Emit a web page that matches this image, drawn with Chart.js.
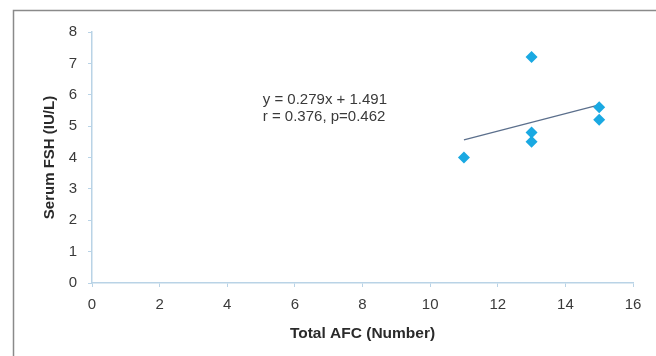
<!DOCTYPE html>
<html>
<head>
<meta charset="utf-8">
<script src="https://cdn.jsdelivr.net/npm/chart.js@4"></script>
<style>
  html, body { margin: 0; padding: 0; background: #fff; }
  #wrap { width: 656px; height: 356px; }
</style>
</head>
<body>
<div id="wrap"><canvas id="afcChart" width="656" height="356"></canvas></div>
<script>
// AFC vs FSH values
const afcValues = [11, 13, 13, 13, 15, 15];
const fshValues = [4.0, 7.2, 4.8, 4.5, 5.6, 5.2];

// regression shown on the plot
const slope = 0.279;
const intercept = 1.491;
const fitRange = [11, 15];
const annotationLines = ["y = 0.279x + 1.491", "r = 0.376, p=0.462"];

const xTicks = [0, 2, 4, 6, 8, 10, 12, 14, 16];
const yTicks = [0, 1, 2, 3, 4, 5, 6, 7, 8];

const axisColor = "#b9d3e6";
const textColor = "#3a3a3a";

// frame + equation text
const extrasPlugin = {
  id: "extras",
  afterDraw(chart) {
    const ctx = chart.ctx;
    const { x, y } = chart.scales;
    ctx.save();
    ctx.strokeStyle = "#8a8a8a";
    ctx.lineWidth = 1.5;
    ctx.beginPath();
    ctx.moveTo(13.5, 356);
    ctx.lineTo(13.5, 10.5);
    ctx.lineTo(656, 10.5);
    ctx.stroke();

    ctx.fillStyle = textColor;
    ctx.font = "15px 'Liberation Sans', Arial, sans-serif";
    ctx.textBaseline = "middle";
    ctx.textAlign = "left";
    const tx = x.getPixelForValue(5.05);
    ctx.fillText(annotationLines[0], tx, y.getPixelForValue(5.85));
    ctx.fillText(annotationLines[1], tx, y.getPixelForValue(5.3));
    ctx.restore();
  },
};

new Chart(document.getElementById("afcChart"), {
  type: "scatter",
  data: {
    datasets: [
      {
        label: "FSH",
        data: afcValues.map((v, i) => ({ x: v, y: fshValues[i] })),
        pointStyle: "rectRot",
        pointRadius: 6,
        backgroundColor: "#1aa9e2",
        borderColor: "#1aa9e2",
        borderWidth: 0,
        order: 1,
      },
      {
        label: "Linear",
        type: "line",
        data: fitRange.map((v) => ({ x: v, y: slope * v + intercept })),
        borderColor: "#5b6f8c",
        borderWidth: 1.2,
        pointRadius: 0,
        fill: false,
        order: 2,
      },
    ],
  },
  options: {
    responsive: false,
    animation: false,
    layout: { padding: { top: 32, right: 23, left: 0, bottom: 0 } },
    plugins: {
      legend: { display: false },
      tooltip: { enabled: false },
    },
    scales: {
      x: {
        type: "linear",
        min: 0,
        max: 16,
        afterBuildTicks: (s) => { s.ticks = xTicks.map((v) => ({ value: v })); },
        afterFit: (s) => { s.height = 73; },
        border: { color: axisColor, width: 1.5 },
        grid: { drawOnChartArea: false, color: axisColor, tickLength: 4 },
        ticks: {
          color: textColor,
          padding: 9,
          font: { family: "'Liberation Sans', Arial, sans-serif", size: 15 },
        },
        title: {
          display: true,
          text: "Total AFC (Number)",
          color: "#2a2a2a",
          padding: { top: 0, bottom: 13 },
          font: { family: "'Liberation Sans', Arial, sans-serif", size: 15.5, weight: "bold" },
        },
      },
      y: {
        type: "linear",
        min: 0,
        max: 8,
        afterBuildTicks: (s) => { s.ticks = yTicks.map((v) => ({ value: v })); },
        afterFit: (s) => { s.width = 92; },
        border: { color: axisColor, width: 1.5 },
        grid: { drawOnChartArea: false, color: axisColor, tickLength: 4 },
        ticks: {
          color: textColor,
          padding: 11,
          font: { family: "'Liberation Sans', Arial, sans-serif", size: 15 },
        },
        title: {
          display: true,
          text: "Serum FSH (IU/L)",
          color: "#2a2a2a",
          padding: { top: 41, bottom: 0 },
          font: { family: "'Liberation Sans', Arial, sans-serif", size: 15, weight: "bold" },
        },
      },
    },
  },
  plugins: [extrasPlugin],
});
</script>
</body>
</html>
